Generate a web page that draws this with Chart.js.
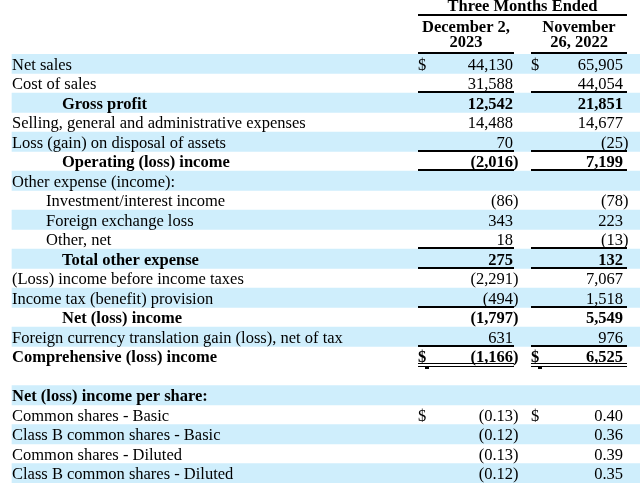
<!DOCTYPE html>
<html>
<head>
<meta charset="utf-8">
<script src="https://cdn.jsdelivr.net/npm/chart.js@4.4.1/dist/chart.umd.min.js"></script>
<style>
html,body{margin:0;padding:0;background:#fff;}
canvas{display:block;}
</style>
</head>
<body>
<canvas id="c" width="640" height="488"></canvas>
<script>
// ---- data ----
const rowLabels = [
  "Net sales",
  "Cost of sales",
  "Gross profit",
  "Selling, general and administrative expenses",
  "Loss (gain) on disposal of assets",
  "Operating (loss) income",
  "Other expense (income):",
  "Investment/interest income",
  "Foreign exchange loss",
  "Other, net",
  "Total other expense",
  "(Loss) income before income taxes",
  "Income tax (benefit) provision",
  "Net (loss) income",
  "Foreign currency translation gain (loss), net of tax",
  "Comprehensive (loss) income",
  "",
  "Net (loss) income per share:",
  "Common shares - Basic",
  "Class B common shares - Basic",
  "Common shares - Diluted",
  "Class B common shares - Diluted"
];
const columnTitle = "Three Months Ended";
const columnHeads = [["December 2,", "2023"], ["November", "26, 2022"]];
const dec2023 = [44130, 31588, 12542, 14488, 70, -2016, null, -86, 343, 18, 275, -2291, -494, -1797, 631, -1166, null, null, -0.13, -0.12, -0.13, -0.12];
const nov2022 = [65905, 44054, 21851, 14677, -25, 7199, null, -78, 223, -13, 132, 7067, 1518, 5549, 976, 6525, null, null, 0.40, 0.36, 0.39, 0.35];
const indentLevel = [0,0,2,0,0,2,0,1,1,1,2,0,0,2,0,0,0,0,0,0,0,0];
const boldLabelRows = [2,5,10,13,15,17];
const boldValueRows = [2,5,10,13,15];
const dollarRows = [0,15,18];
const perShareRows = [18,19,20,21];
const singleRuleRows = [1,4,5,9,10,12,14];
const doubleRuleRows = [15];

// ---- styling / layout ----
const FONT = '"Liberation Serif", "Times New Roman", serif';
const SIZE = 16.5;
const STRIPE = '#CFEEFC';
const indentX = [12, 46, 62];
const cols = [
  {dollar: 418, right: 513, ruleL: 418, ruleR: 514},
  {dollar: 531, right: 623, ruleL: 531, ruleR: 627}
];
const shaded = rowLabels.map((_, i) => (i < 16 ? i % 2 === 0 : i % 2 === 1));
const stripeData = shaded.map(s => s ? [12, 640] : null);

function fmt(v, perShare) {
  if (v === null || v === undefined) return null;
  const a = Math.abs(v);
  const s = perShare ? a.toFixed(2) : a.toLocaleString('en-US');
  return {text: v < 0 ? '(' + s : s, neg: v < 0};
}

function hline(ctx, x1, x2, y, w) {
  ctx.lineWidth = w;
  ctx.beginPath();
  ctx.moveTo(x1, y); ctx.lineTo(x2, y);
  ctx.stroke();
}

const tablePlugin = {
  id: 'tableText',
  afterDatasetsDraw(chart) {
    const ctx = chart.ctx;
    const xs = chart.scales.x, ys = chart.scales.y;
    const X = v => xs.getPixelForValue(v);
    const h = ys.getPixelForValue(1) - ys.getPixelForValue(0);
    ctx.save();
    ctx.fillStyle = '#000';
    ctx.strokeStyle = '#000';
    ctx.textBaseline = 'alphabetic';

    // header
    const top0 = ys.getPixelForValue(0) - h / 2;
    ctx.font = 'bold ' + SIZE + 'px ' + FONT;
    ctx.textAlign = 'center';
    ctx.fillText(columnTitle, X((cols[0].ruleL + cols[1].ruleR) / 2), top0 - 43);
    hline(ctx, X(cols[0].ruleL), X(cols[1].ruleR), Math.round(top0 - 39), 2);
    columnHeads.forEach((lines, c) => {
      const cx = X((cols[c].ruleL + cols[c].ruleR) / 2);
      ctx.fillText(lines[0], cx, top0 - 22);
      ctx.fillText(lines[1], cx, top0 - 7);
      hline(ctx, X(cols[c].ruleL), X(cols[c].ruleR), Math.round(top0 - 1), 2);
    });

    rowLabels.forEach((label, i) => {
      const cy = ys.getPixelForValue(i);
      const base = cy + 6;
      const boldL = boldLabelRows.includes(i);
      ctx.textAlign = 'left';
      ctx.font = (boldL ? 'bold ' : '') + SIZE + 'px ' + FONT;
      if (label) ctx.fillText(label, X(indentX[indentLevel[i]]), base);

      const boldV = boldValueRows.includes(i);
      const ps = perShareRows.includes(i);
      [dec2023, nov2022].forEach((arr, c) => {
        const f = fmt(arr[i], ps);
        ctx.font = (boldV ? 'bold ' : '') + SIZE + 'px ' + FONT;
        if (dollarRows.includes(i)) {
          ctx.textAlign = 'left';
          ctx.fillText('$', X(cols[c].dollar), base);
        }
        if (f) {
          ctx.textAlign = 'right';
          ctx.fillText(f.text, X(cols[c].right), base);
          if (f.neg) {
            ctx.textAlign = 'left';
            ctx.fillText(')', X(cols[c].right), base);
          }
        }
      });

      const bottom = cy + h / 2;
      if (singleRuleRows.includes(i)) {
        cols.forEach(col => hline(ctx, X(col.ruleL), X(col.ruleR), Math.round(bottom - 1), 2));
      }
      if (doubleRuleRows.includes(i)) {
        cols.forEach(col => {
          hline(ctx, X(col.ruleL), X(col.ruleR), Math.round(bottom - 3) + 0.5, 1);
          hline(ctx, X(col.ruleL), X(col.ruleR), Math.round(bottom) + 0.5, 1);
          hline(ctx, X(col.dollar + 7), X(col.dollar + 11), Math.round(bottom) + 2, 2);
        });
      }
    });
    ctx.restore();
  }
};

new Chart(document.getElementById('c'), {
  type: 'bar',
  data: {
    labels: rowLabels,
    datasets: [{
      data: stripeData,
      backgroundColor: STRIPE,
      borderWidth: 0,
      barPercentage: 1,
      categoryPercentage: 1
    }]
  },
  options: {
    indexAxis: 'y',
    responsive: false,
    animation: false,
    layout: {padding: {top: 54, bottom: 5, left: 0, right: 0}},
    scales: {
      x: {type: 'linear', min: 0, max: 640, display: false},
      y: {display: false}
    },
    plugins: {legend: {display: false}, tooltip: {enabled: false}}
  },
  plugins: [tablePlugin]
});
</script>
</body>
</html>
